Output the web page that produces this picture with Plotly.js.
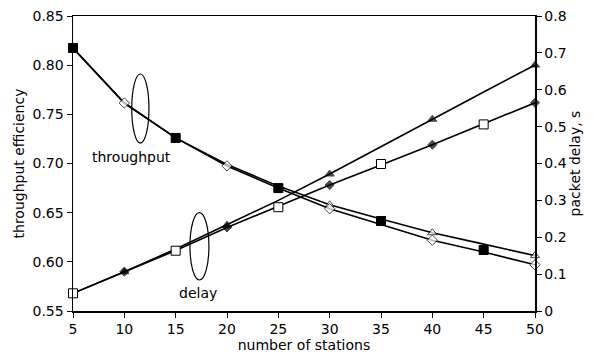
<!DOCTYPE html>
<html><head><meta charset="utf-8">
<script src="https://cdn.plot.ly/plotly-3.0.1.min.js"></script>
<style>html,body{margin:0;padding:0;background:#fff}</style>
</head><body>
<div id="chart" style="width:593px;height:356px"></div>
<script>
const stations = [5, 10, 15, 20, 25, 30, 35, 40, 45, 50];

// throughput efficiency (left axis)
const thrDiamond = [0.8175, 0.7615, 0.726, 0.6975, 0.675, 0.654, 0.638, 0.622, 0.610, 0.597];
const thrTriangle = [0.8175, 0.7615, 0.726, 0.699, 0.677, 0.658, 0.6435, 0.6296, 0.618, 0.6063];
const thrSquareX = [5, 15, 25, 35, 45];
const thrSquare = [0.8175, 0.726, 0.675, 0.6415, 0.612];

// packet delay, s (right axis)
const delTriangle = [0.048, 0.1066, 0.168, 0.233, 0.300, 0.3715, 0.446, 0.520, 0.594, 0.667];
const delDiamond = [0.048, 0.1066, 0.164, 0.2266, 0.284, 0.3417, 0.396, 0.4508, 0.508, 0.5647];
const delSquareX = [5, 15, 25, 35, 45];
const delSquare = [0.048, 0.1635, 0.2815, 0.3986, 0.506];

// which points carry a marker
const thrDiamondMark = [0, 1, 0, 1, 0, 1, 0, 1, 0, 1];
const thrTriangleMark = [0, 0, 0, 0, 0, 1, 0, 1, 0, 1];
const delDiamondMark = [0, 1, 0, 1, 0, 1, 0, 1, 0, 1];
const delTriangleMark = [0, 1, 0, 1, 0, 1, 0, 1, 0, 1];

const sz = (m, s) => m.map(v => v ? s : 0);
const LW = 1.6;

const traces = [
  {x: stations, y: thrTriangle, mode: 'lines+markers', cliponaxis: false, line: {color: '#000', width: LW},
   marker: {symbol: 'triangle-up', size: sz(thrTriangleMark, 8), color: '#fff', line: {color: '#000', width: 1}}},
  {x: stations, y: thrDiamond, mode: 'lines+markers', cliponaxis: false, line: {color: '#000', width: LW},
   marker: {symbol: 'diamond', size: sz(thrDiamondMark, 8), color: '#fff', line: {color: '#000', width: 1}}},
  {x: thrSquareX, y: thrSquare, mode: 'markers', cliponaxis: false,
   marker: {symbol: 'square', size: 9, color: '#000', line: {color: '#000', width: 1}}},
  {x: stations, y: delTriangle, yaxis: 'y2', mode: 'lines+markers', cliponaxis: false, line: {color: '#000', width: LW},
   marker: {symbol: 'triangle-up', size: sz(delTriangleMark, 8), color: '#000', line: {color: '#000', width: 1}}},
  {x: stations, y: delDiamond, yaxis: 'y2', mode: 'lines+markers', cliponaxis: false, line: {color: '#000', width: LW},
   marker: {symbol: 'diamond', size: sz(delDiamondMark, 7), color: '#000', line: {color: '#000', width: 1}}},
  {x: delSquareX, y: delSquare, yaxis: 'y2', mode: 'markers', cliponaxis: false,
   marker: {symbol: 'square', size: 9, color: '#fff', line: {color: '#000', width: 1}}}
];

const font = {family: 'DejaVu Sans, Liberation Sans, Arial, sans-serif', size: 14, color: '#000'};

const layout = {
  width: 593, height: 356,
  margin: {l: 73, r: 58, t: 16, b: 45},
  showlegend: false,
  paper_bgcolor: '#fff', plot_bgcolor: '#fff',
  font: font,
  xaxis: {range: [5, 50], tickvals: stations, showgrid: false, zeroline: false,
    showline: true, linecolor: '#000', linewidth: 1.5, mirror: true,
    ticks: 'outside', ticklen: 5, tickcolor: '#000', tickfont: font,
    title: {text: 'number of stations', font: font, standoff: 2}},
  yaxis: {range: [0.55, 0.85], dtick: 0.05, tickformat: '.2f', showgrid: false, zeroline: false,
    showline: true, linecolor: '#000', linewidth: 1.5,
    ticks: 'outside', ticklen: 5, tickcolor: '#000', tickfont: font,
    title: {text: 'throughput efficiency', font: font, standoff: 4}},
  yaxis2: {range: [0, 0.8], dtick: 0.1, overlaying: 'y', side: 'right', showgrid: false, zeroline: false,
    showline: true, linecolor: '#000', linewidth: 1.5,
    ticks: 'outside', ticklen: 5, tickcolor: '#000', tickfont: font,
    title: {text: 'packet delay, s', font: font, standoff: 4}},
  shapes: [
    {type: 'circle', xref: 'x', yref: 'y', x0: 10.72, x1: 12.4, y0: 0.7208, y1: 0.791,
     line: {color: '#000', width: 1.2}},
    {type: 'circle', xref: 'x', yref: 'y', x0: 16.39, x1: 18.24, y0: 0.5815, y1: 0.65,
     line: {color: '#000', width: 1.2}}
  ],
  annotations: [
    {x: 10.65, y: 0.7066, xref: 'x', yref: 'y', text: 'throughput', showarrow: false, font: font},
    {x: 17.17, y: 0.5683, xref: 'x', yref: 'y', text: 'delay', showarrow: false, font: font}
  ]
};

Plotly.newPlot('chart', traces, layout, {displayModeBar: false, staticPlot: true});
</script>
</body></html>
